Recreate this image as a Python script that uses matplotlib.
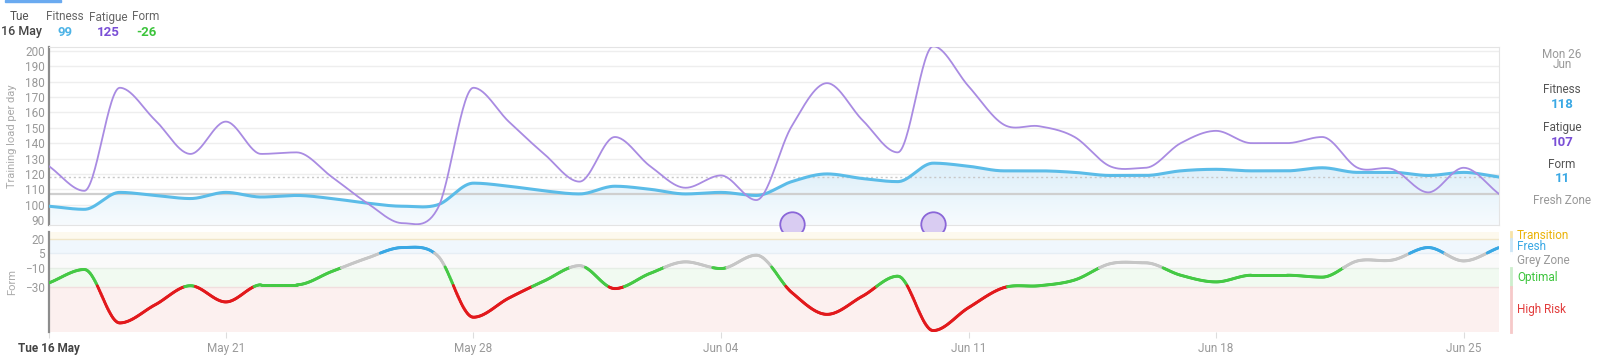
import numpy as np
import matplotlib
matplotlib.use("Agg")
import matplotlib.pyplot as plt
from matplotlib.collections import LineCollection
from matplotlib.colors import LinearSegmentedColormap
import matplotlib.transforms as mtransforms

plt.rcParams['font.family'] = ['Roboto', 'DejaVu Sans']

# Datos (16 May -> 26 Jun, un valor por dia)
fitness = [99, 97, 108, 106, 104, 108, 105, 106, 104, 101, 99, 100, 114, 112, 109, 107,
           112, 110, 107, 108, 106, 115, 120, 117, 115, 127, 125, 122, 122, 121, 119, 119,
           122, 123, 122, 122, 124, 121, 121, 119, 121, 118]
fatigue = [125, 109, 176, 155, 133, 154, 133, 134, 118, 101, 88, 98, 176, 154, 133, 115,
           144, 125, 111, 119, 103, 151, 179, 155, 134, 203, 177, 152, 151, 144, 125, 124,
           140, 148, 140, 140, 144, 124, 123, 108, 124, 107]
form = [-26, -12, -68, -49, -29, -46, -28, -28, -14, 0, 11, 2, -62, -42, -24, -8,
        -32, -16, -4, -11, 3, -36, -59, -40, -19, -76, -52, -31, -29, -23, -6, -5,
        -18, -25, -18, -18, -20, -3, -2, 11, -3, 11]
event_days = [21, 25]

tick_days = [0, 5, 12, 19, 26, 33, 40]
tick_labels = ['Tue 16 May', 'May 21', 'May 28', 'Jun 04', 'Jun 11', 'Jun 18', 'Jun 25']
load_ticks = list(range(90, 201, 10))
form_ticks = [20, 5, -10, -30]

zone_names = ['Transition', 'Fresh', 'Grey Zone', 'Optimal', 'High Risk']
zone_low = [20, 5, -10, -30, -100]
zone_high = [100, 20, 5, -10, -30]
zone_text = ['#eab308', '#3aa8e4', '#9a9a9a', '#3cc43c', '#e23b3b']
zone_line = ['#f0b400', '#3aa8e4', '#c6c6c6', '#45c945', '#e2191c']
zone_bg = ['#fdf9ee', '#f0f7fd', '#fafafa', '#f1faf1', '#fcf0ef']
zone_bar = ['#f7e3a8', '#cde6f7', '#ffffff', '#cdeecd', '#f6c9c9']

W, H = 1600, 359
left, right = 49, 1499


def box(top, bottom):
    return [left / W, 1 - bottom / H, (right - left) / W, (bottom - top) / H]


def smooth(y, n=30):
    # spline tipo highcharts: tangente plana en los extremos locales
    y = np.asarray(y, float)
    m = np.gradient(y)
    for i in range(1, len(y) - 1):
        if (y[i] - y[i - 1]) * (y[i + 1] - y[i]) <= 0:
            m[i] = 0
    t = np.linspace(0, 1, n, endpoint=False)
    h00 = 2 * t**3 - 3 * t**2 + 1
    h10 = t**3 - 2 * t**2 + t
    h01 = -2 * t**3 + 3 * t**2
    h11 = t**3 - t**2
    xs, ys = [], []
    for i in range(len(y) - 1):
        xs.append(i + t)
        ys.append(h00 * y[i] + h10 * m[i] + h01 * y[i + 1] + h11 * m[i + 1])
    xs.append([len(y) - 1])
    ys.append([y[-1]])
    return np.concatenate(xs), np.concatenate(ys)


fig = plt.figure(figsize=(16, 3.59), dpi=100)
ax = fig.add_axes(box(47, 225))
axf = fig.add_axes(box(232, 332))

# ---- panel superior: carga de entrenamiento
ylo, yhi = 86.8, 202.5
for v in load_ticks:
    ax.axhline(v, color='#eeeeee', lw=1, zorder=0)

xf, yf = smooth(fitness)
xg, yg = smooth(fatigue)
poly = ax.fill_between(xf, yf, ylo, facecolor='none', edgecolor='none')
cmap = LinearSegmentedColormap.from_list('fill', ['#f7fbfe', '#dbeef9'])
grad = np.linspace(0, 1, 256).reshape(-1, 1)
im = ax.imshow(grad, extent=[0, len(fitness) - 1, ylo, 128], aspect='auto',
               cmap=cmap, origin='lower', zorder=1)
im.set_clip_path(poly.get_paths()[0], transform=ax.transData)

ax.axhline(fatigue[-1], color='#cfcfcf', lw=1.6, zorder=2)
ax.axhline(fitness[-1], color='#c8c8c8', lw=1, ls=(0, (1.5, 2)), zorder=2)
ax.plot(xf, yf, color='#5bbce8', lw=2.2, zorder=3)
ax.plot(xg, yg, color='#a98be2', lw=1.3, zorder=4)
ax.scatter(event_days, [87.5] * len(event_days), s=310, facecolor='#d9ccf2',
           edgecolor='#8a66d8', lw=1.3, zorder=6, clip_on=False)

ax.set_xlim(0, len(fitness) - 1)
ax.set_ylim(ylo, yhi)
ax.set_yticks(load_ticks)
ax.set_xticks([])
ax.tick_params(axis='y', length=0, pad=3, labelsize=8.5, labelcolor='#999999')
ax.set_ylabel('Training load per day', color='#aaaaaa', fontsize=8, labelpad=6)
for s in ['top', 'right', 'bottom']:
    ax.spines[s].set_color('#e4e4e4')
ax.spines['left'].set_color('#8c8c8c')
ax.spines['left'].set_linewidth(1.6)

# ---- panel inferior: forma
flo, fhi = -77.5, 27.3
for lo, hi, c in zip(zone_low, zone_high, zone_bg):
    axf.axhspan(max(lo, flo), min(hi, fhi), color=c, lw=0, zorder=0)
for v, c in zip(form_ticks, ['#f1e6c8', '#e6eef5', '#e6eee6', '#f1dede']):
    axf.axhline(v, color=c, lw=1, zorder=1)

xs, ys = smooth(form)
pts = np.column_stack([xs, ys]).reshape(-1, 1, 2)
segs = np.concatenate([pts[:-1], pts[1:]], axis=1)
mid = (ys[:-1] + ys[1:]) / 2
cols = []
for v in mid:
    for lo, c in zip(zone_low, zone_line):
        if v >= lo:
            cols.append(c)
            break
axf.add_collection(LineCollection(segs, colors=cols, linewidths=2.1, zorder=3,
                                  capstyle='round'))

axf.set_xlim(0, len(form) - 1)
axf.set_ylim(flo, fhi)
axf.set_yticks(form_ticks)
axf.tick_params(axis='y', length=0, pad=3, labelsize=8.5, labelcolor='#999999')
axf.set_ylabel('Form', color='#aaaaaa', fontsize=8, labelpad=6)
axf.set_xticks(tick_days)
axf.set_xticklabels(tick_labels)
axf.tick_params(axis='x', length=4, color='#dddddd', pad=3, labelsize=8.5,
                labelcolor='#999999')
first = axf.get_xticklabels()[0]
first.set_color('#444444')
first.set_fontweight('bold')
for s in ['top', 'right', 'bottom']:
    axf.spines[s].set_visible(False)
axf.spines['left'].set_color('#8c8c8c')
axf.spines['left'].set_linewidth(1.6)

# leyenda de zonas a la derecha
trans = mtransforms.blended_transform_factory(axf.transAxes, axf.transData)
bx = (1511 - left) / (right - left)
tx = (1517 - left) / (right - left)
for name, lo, hi, tc, bc in zip(zone_names, zone_low, zone_high, zone_text, zone_bar):
    lo, hi = max(lo, flo), min(hi, fhi)
    axf.plot([bx, bx], [lo, hi], color=bc, lw=2, transform=trans, clip_on=False)
    axf.text(tx, (lo + hi) / 2, name, color=tc, fontsize=8.5, va='center',
             transform=trans, clip_on=False)

# ---- textos de cabecera
def ftext(x, y, s, **kw):
    fig.text(x / W, 1 - y / H, s, ha=kw.pop('ha', 'center'), va='center', **kw)


fig.patches.append(plt.Rectangle((5 / W, 1 - 2 / H), 56 / W, 2 / H, color='#6aaaf0',
                                 transform=fig.transFigure, figure=fig))
ftext(19.5, 17, 'Tue', color='#555555', fontsize=8.5)
ftext(1, 32, '16 May', color='#444444', fontsize=9, ha='left', fontweight='medium')
ftext(65, 17, 'Fitness', color='#666666', fontsize=8.5)
ftext(65, 32, str(fitness[0]), color='#4db3e6', fontsize=9.5, fontweight='bold')
ftext(108, 17, 'Fatigue', color='#666666', fontsize=8.5)
ftext(108, 32, str(fatigue[0]), color='#7a4fd6', fontsize=9.5, fontweight='bold')
ftext(146, 17, 'Form', color='#666666', fontsize=8.5)
ftext(146, 32, str(form[0]), color='#3cc43c', fontsize=9.5, fontweight='bold')

cx = 1562
ftext(cx, 54, 'Mon 26', color='#999999', fontsize=8.5)
ftext(cx, 65, 'Jun', color='#999999', fontsize=8.5)
ftext(cx, 89.5, 'Fitness', color='#555555', fontsize=8.5)
ftext(cx, 104.5, str(fitness[-1]), color='#3aa8e4', fontsize=9.5, fontweight='bold')
ftext(cx, 127, 'Fatigue', color='#555555', fontsize=8.5)
ftext(cx, 142, str(fatigue[-1]), color='#7a4fd6', fontsize=9.5, fontweight='bold')
ftext(cx, 164, 'Form', color='#555555', fontsize=8.5)
ftext(cx, 179, str(form[-1]), color='#3aa8e4', fontsize=9.5, fontweight='bold')
ftext(cx, 201, 'Fresh Zone', color='#999999', fontsize=8.5)

fig.savefig('out.png', dpi=100)
